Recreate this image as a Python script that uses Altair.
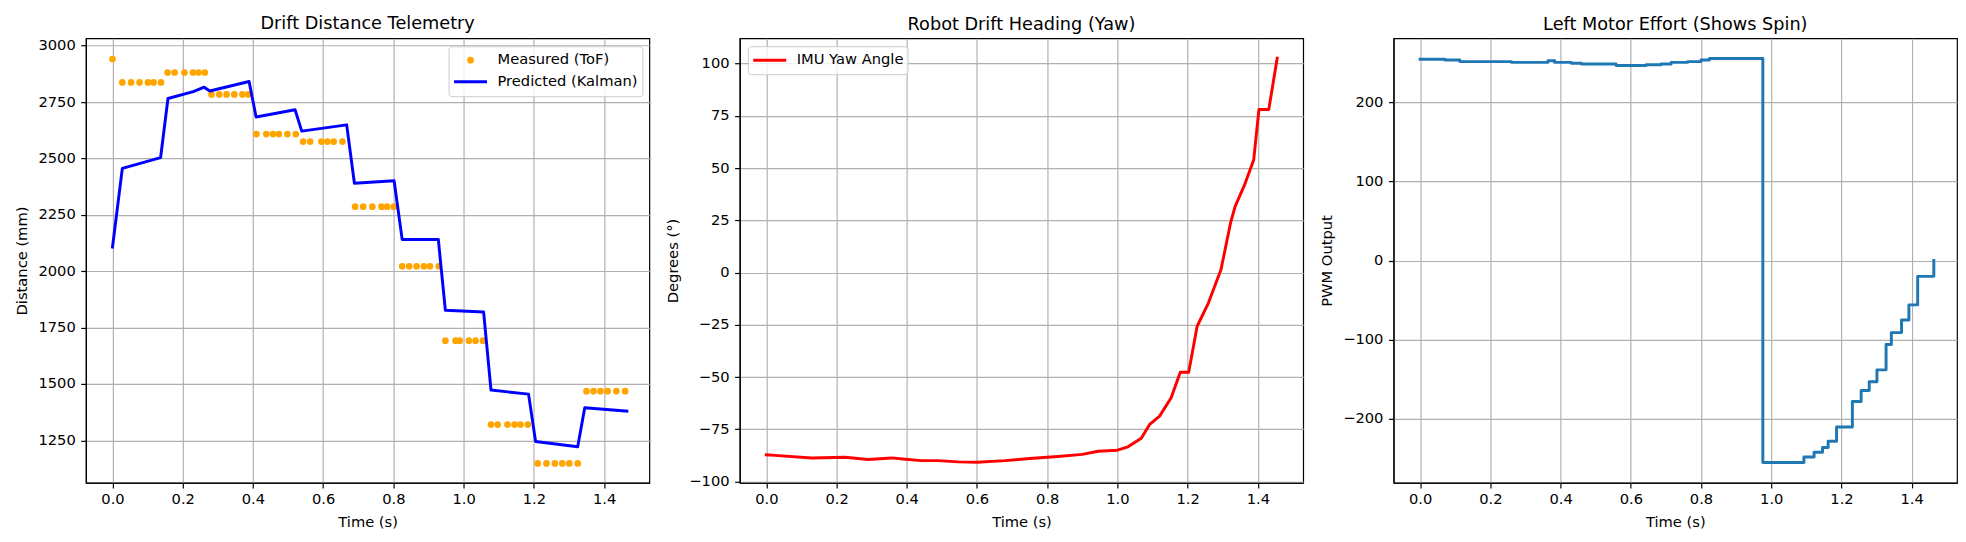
import altair as alt
import pandas as pd

FONT = "DejaVu Sans"
W, H = 564, 445
FS = 14.7          # tick / axis-title / legend font size
LW = 2.94          # data line width
THIN = 1.18        # spines, ticks, grid

# ---------------- data: panel 1 (distance) ----------------
meas_t = [0.0,
          0.028, 0.053, 0.077, 0.101, 0.117, 0.138,
          0.157, 0.177, 0.205, 0.229, 0.245, 0.263,
          0.282, 0.304, 0.325, 0.347, 0.370, 0.387,
          0.410, 0.438, 0.457, 0.474, 0.498, 0.522,
          0.543, 0.563, 0.595, 0.612, 0.630, 0.655,
          0.691, 0.714, 0.740, 0.766, 0.782, 0.801,
          0.825, 0.845, 0.866, 0.887, 0.904, 0.929,
          0.948, 0.977, 0.989, 1.015, 1.034, 1.055,
          1.078, 1.097, 1.125, 1.145, 1.162, 1.183,
          1.211, 1.236, 1.260, 1.281, 1.301, 1.325,
          1.350, 1.370, 1.390, 1.410, 1.435, 1.460]
meas_v = [2941,
          2837, 2837, 2837, 2837, 2837, 2837,
          2881, 2881, 2881, 2881, 2881, 2881,
          2784, 2784, 2784, 2784, 2784, 2784,
          2608, 2608, 2608, 2608, 2608, 2608,
          2575, 2575, 2575, 2575, 2575, 2575,
          2286, 2286, 2286, 2286, 2286, 2286,
          2022, 2022, 2022, 2022, 2022, 2022,
          1692, 1692, 1692, 1692, 1692, 1692,
          1320, 1320, 1320, 1320, 1320, 1320,
          1148, 1148, 1148, 1148, 1148, 1148,
          1468, 1468, 1468, 1468, 1468, 1468]

pred_t = [0.0, 0.028, 0.137, 0.158, 0.230, 0.261, 0.277, 0.389, 0.409, 0.520,
          0.539, 0.667, 0.689, 0.802, 0.825, 0.928, 0.948, 1.057, 1.078, 1.185,
          1.205, 1.325, 1.345, 1.465]
pred_v = [2107, 2456, 2504, 2766, 2796, 2816, 2799, 2841, 2684, 2716,
          2621, 2649, 2390, 2401, 2141, 2141, 1827, 1819, 1473, 1455,
          1245, 1222, 1395, 1380]

# ---------------- data: panel 2 (yaw) ----------------
yaw_t = [0.0, 0.025, 0.129, 0.224, 0.290, 0.357, 0.396, 0.442, 0.489, 0.546,
         0.600, 0.680, 0.750, 0.830, 0.900, 0.945, 1.000, 1.030, 1.068, 1.092,
         1.120, 1.153, 1.179, 1.203, 1.227, 1.259, 1.295, 1.322, 1.335, 1.362,
         1.388, 1.403, 1.431, 1.455]
yaw_v = [-87.2, -87.5, -88.7, -88.4, -89.5, -88.7, -89.3, -90.0, -90.0, -90.6,
         -90.8, -90.0, -89.0, -88.0, -87.0, -85.5, -85.0, -83.4, -79.3, -72.6,
         -68.7, -59.9, -47.7, -47.7, -25.7, -14.6, 1.5, 23.6, 31.5, 41.9,
         53.8, 78.0, 78.0, 102.6]

# ---------------- data: panel 3 (PWM) ----------------
pwm_t = [0.0, 0.070, 0.113, 0.260, 0.364, 0.383, 0.430, 0.459, 0.558, 0.644,
         0.686, 0.715, 0.762, 0.800, 0.824, 0.976, 1.093, 1.122, 1.146, 1.162,
         1.186, 1.231, 1.256, 1.279, 1.301, 1.327, 1.342, 1.371, 1.392, 1.417,
         1.463]
pwm_v = [254, 253, 251, 250, 252, 250, 249, 248, 246, 247,
         248, 250, 251, 253, 255, -255, -248, -242, -236, -228,
         -210, -178, -164, -153, -138, -106, -91, -75, -56, -20,
         0]

MEAS = "Measured (ToF)"
PRED = "Predicted (Kalman)"
YAW = "IMU Yaw Angle"

x_ticks = [0.0, 0.2, 0.4, 0.6, 0.8, 1.0, 1.2, 1.4]
x_scale = alt.Scale(domain=[-0.0757, 1.529], nice=False, zero=False)


def xenc():
    return alt.X("t:Q", scale=x_scale,
                 axis=alt.Axis(title="Time (s)", values=x_ticks, format=".1f"))


SYM = 1089  # 33 px long legend handle


def make_legend(orient):
    return alt.Legend(
        title=None, orient=orient, offset=7.5, padding=4,
        fillColor="rgba(255,255,255,0.8)", strokeColor="#cccccc", cornerRadius=3,
        labelFont=FONT, labelFontSize=FS, labelColor="black", labelOffset=9,
        labelLimit=400, symbolSize=SYM, symbolStrokeWidth=LW,
        clipHeight=20, rowPadding=1.6,
    )


legend1 = make_legend("top-right")
circle_path = "M0,-0.114A0.114,0.114,0,1,1,0,0.114A0.114,0.114,0,1,1,0,-0.114Z"
dom1 = [MEAS, PRED]
color1 = alt.Color("s:N", scale=alt.Scale(domain=dom1, range=["orange", "blue"]), legend=legend1)
stroke1 = alt.Stroke("s:N", scale=alt.Scale(domain=dom1, range=["orange", "blue"]), legend=legend1)
shape1 = alt.Shape("s:N", scale=alt.Scale(domain=dom1, range=[circle_path, "stroke"]), legend=legend1)

y1 = alt.Y("v:Q", scale=alt.Scale(domain=[1062, 3033], nice=False, zero=False),
           axis=alt.Axis(title="Distance (mm)", values=[1250, 1500, 1750, 2000, 2250, 2500, 2750, 3000],
                         format="d"))

df_meas = pd.DataFrame({"t": meas_t, "v": meas_v, "s": MEAS})
df_pred = pd.DataFrame({"t": pred_t, "v": pred_v, "s": PRED})

pts = alt.Chart(df_meas).mark_point(filled=True, size=SYM, strokeWidth=LW, opacity=1).encode(
    x=xenc(), y=y1, color=color1, stroke=stroke1, shape=shape1)
kal = alt.Chart(df_pred).mark_line(strokeWidth=LW, strokeJoin="round", strokeCap="square").encode(
    x=xenc(), y=y1, color=color1)
p1 = alt.layer(pts, kal).properties(width=W, height=H, title="Drift Distance Telemetry")

# panel 2
df_yaw = pd.DataFrame({"t": yaw_t, "v": yaw_v, "s": YAW})
legend2 = make_legend("top-left")
p2 = alt.Chart(df_yaw).mark_line(strokeWidth=LW, strokeJoin="round", strokeCap="square").encode(
    x=xenc(),
    y=alt.Y("v:Q", scale=alt.Scale(domain=[-100.6, 112.1], nice=False, zero=False),
            axis=alt.Axis(title="Degrees (°)", values=[-100, -75, -50, -25, 0, 25, 50, 75, 100],
                          format="d")),
    color=alt.Color("s:N", scale=alt.Scale(domain=[YAW], range=["red"]), legend=legend2),
).properties(width=W, height=H, title="Robot Drift Heading (Yaw)")

# panel 3
df_pwm = pd.DataFrame({"t": pwm_t, "v": pwm_v})
p3 = alt.Chart(df_pwm).mark_line(strokeWidth=LW, interpolate="step-after", color="#1f77b4",
                                 strokeJoin="round", strokeCap="square").encode(
    x=xenc(),
    y=alt.Y("v:Q", scale=alt.Scale(domain=[-280.5, 280.5], nice=False, zero=False),
            axis=alt.Axis(title="PWM Output", values=[-200, -100, 0, 100, 200], format="d")),
).properties(width=W, height=H, title="Left Motor Effort (Shows Spin)")

chart = alt.hconcat(p1, p2, p3, spacing=90.5, bounds="flush").resolve_scale(
    color="independent", stroke="independent", shape="independent"
).resolve_legend(
    color="independent", stroke="independent", shape="independent"
).properties(
    padding={"left": 6, "top": 6, "right": 0, "bottom": 2}, background="white"
).configure_axis(
    domainColor="black", domainWidth=THIN, tickColor="black", tickWidth=THIN, tickSize=5.15,
    labelFont=FONT, labelFontSize=FS, labelColor="black", labelFlush=False, labelOverlap=False,
    titleFont=FONT, titleFontSize=FS, titleFontWeight="normal", titleColor="black",
    gridColor="#b0b0b0", gridWidth=THIN, gridOpacity=1,
).configure_axisX(labelPadding=4, titlePadding=8).configure_axisY(
    labelPadding=5.5, titlePadding=8.2
).configure_view(stroke="black", strokeWidth=THIN).configure_title(
    font=FONT, fontSize=17.7, fontWeight="normal", color="black", anchor="middle", offset=5
)

chart.save("out.html", embed_options={"renderer": "svg", "actions": False})
